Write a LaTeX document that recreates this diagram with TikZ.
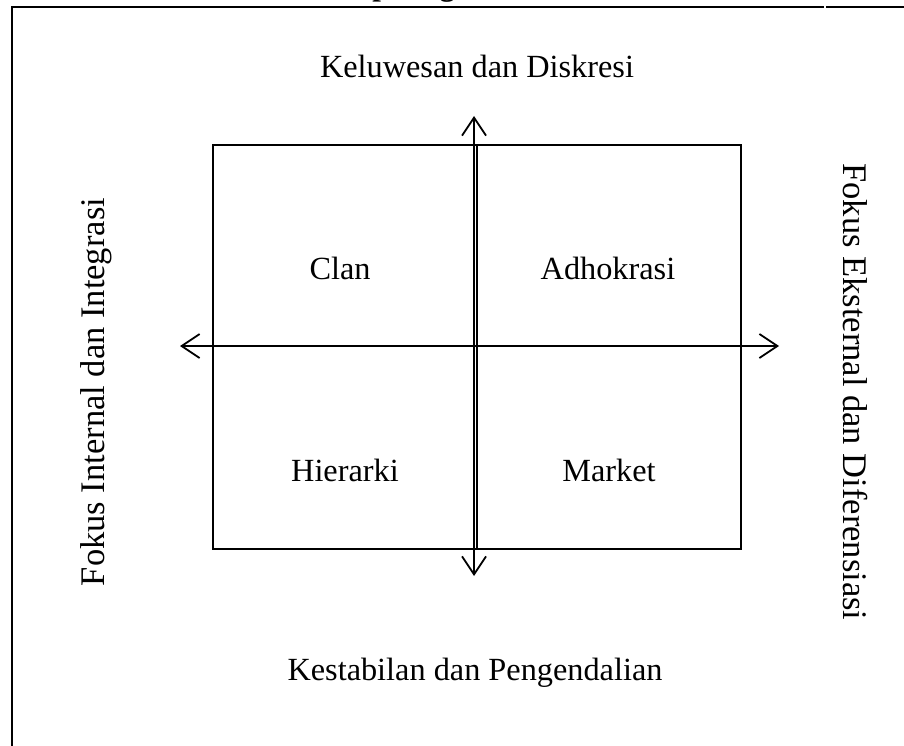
\documentclass[tikz,border=0pt]{standalone}
\usepackage{fontspec}
\setmainfont{Liberation Serif}
\usetikzlibrary{arrows.meta}
\tikzset{
  lbl/.style={inner sep=0pt, font=\fontsize{32.3}{38}\selectfont},
  sidelbl/.style={inner sep=0pt, font=\fontsize{34.5}{40}\selectfont},
  frameline/.style={line width=1.6pt, black},
  boxline/.style={line width=1.3pt, black},
  tipstyle/.style={},
  axis/.style={black, {Straight Barb[length=18pt,width=24pt,line width=1.8pt]}-{Straight Barb[length=18pt,width=24pt,line width=1.8pt]}},
}
\begin{document}
\begin{tikzpicture}[x=1pt,y=-1pt]
\useasboundingbox (0,0) rectangle (904,746);
% clipped title
\begin{scope}
\clip (0,0) rectangle (904,746);
\node[lbl, anchor=base west, font=\fontsize{31}{37}\selectfont\bfseries] (title) at (268,-4) {an Competing Values Framework};
\end{scope}
% table frame
\coordinate (f1) at (12,746);
\coordinate (f2) at (12,7);
\coordinate (f3) at (824,7);
\coordinate (f4) at (826,7);
\coordinate (f5) at (904,7);
\draw[frameline] (f1) -- (f2) -- (f3);
\draw[frameline] (f4) -- (f5);
% quadrant box
\node[draw, boxline, minimum width=528pt, minimum height=404pt, inner sep=0pt] (quad) at (477,347) {};
\coordinate (vt) at (477,145);
\coordinate (vb) at (477,549);
\draw[boxline] (vt) -- (vb);
% axes
\coordinate (up) at (474,116);
\coordinate (down) at (474,576);
\coordinate (left) at (180,346);
\coordinate (right) at (779,346);
\draw[axis, line width=2.2pt] (down) -- (up);
\draw[axis, line width=2.7pt] (left) -- (right);
% labels
\node[lbl, anchor=base] (top) at (477,78) {Keluwesan dan Diskresi};
\node[lbl, anchor=base] (bottom) at (475,680) {Kestabilan dan Pengendalian};
\node[lbl, anchor=base] (clan) at (340,279) {Clan};
\node[lbl, anchor=base] (adho) at (608,279) {Adhokrasi};
\node[lbl, anchor=base] (hier) at (345,481) {Hierarki};
\node[lbl, anchor=base] (market) at (609,481) {Market};
\node[sidelbl, rotate=90] (lefttext) at (96,392) {Fokus Internal dan Integrasi};
\node[sidelbl, rotate=-90] (righttext) at (855,392) {Fokus Eksternal dan Diferensiasi};
\end{tikzpicture}
\end{document}
